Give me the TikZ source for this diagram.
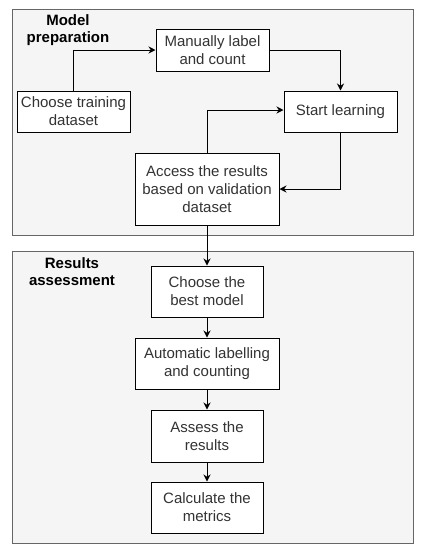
\documentclass[tikz,border=0pt]{standalone}
\usepackage{fontspec}
\setmainfont{Liberation Sans}
\usetikzlibrary{arrows.meta, positioning, calc}
\definecolor{panelfill}{RGB}{245, 245, 245}
\definecolor{panelline}{RGB}{102, 102, 102}
\definecolor{textgrey}{RGB}{51, 51, 51}

\begin{document}
\begin{tikzpicture}[x=1pt, y=-1pt, line width=1pt,
  every node/.style={font=\fontsize{15}{18}\selectfont},
  stepbox/.style={draw, fill=white, align=center, inner sep=0pt, text=textgrey},
  title/.style={align=center, font=\fontsize{15}{17}\selectfont\bfseries},
  flow/.style={-{Stealth[length=7pt, width=7pt]}}]
\useasboundingbox (0,0) rectangle (422,550);
% panels
\draw[panelline, fill=panelfill] (12,9) rectangle (413,235);
\draw[panelline, fill=panelfill] (12,251) rectangle (413,543);
\node[title] (prep) at (68,30.5) {Model\\preparation};
\node[title] (res) at (72,272) {Results\\assessment};
% steps
\node[stepbox, minimum width=113pt, minimum height=42pt] (manual) at (212.5,50) {Manually label\\and count};
\node[stepbox, minimum width=113pt, minimum height=41pt] (train) at (73.5,111.5) {Choose training\\dataset};
\node[stepbox, minimum width=113pt, minimum height=41pt] (learn) at (340.5,111.5) {Start learning};
\node[stepbox, minimum width=144pt, minimum height=72pt] (access) at (207,189) {Access the results\\based on validation\\dataset};
\node[stepbox, minimum width=112pt, minimum height=51pt] (best) at (207,291.5) {Choose the\\best model};
\node[stepbox, minimum width=144pt, minimum height=51pt] (auto) at (207,363.5) {Automatic labelling\\and counting};
\node[stepbox, minimum width=112pt, minimum height=52pt] (assess) at (207,436) {Assess the\\results};
\node[stepbox, minimum width=112pt, minimum height=51pt] (metrics) at (207,507.5) {Calculate the\\metrics};
% arrows
\draw[flow] (train.north) |- (manual.west);
\draw[flow] (manual.east) -| (learn.north);
\draw[flow] (learn.south) |- (access.east);
\draw[flow] (access.north) |- ([yshift=1.5pt]learn.west);
\draw[flow] (access) -- (best);
\draw[flow] (best) -- (auto);
\draw[flow] (auto) -- (assess);
\draw[flow] (assess) -- (metrics);
\end{tikzpicture}
\end{document}
